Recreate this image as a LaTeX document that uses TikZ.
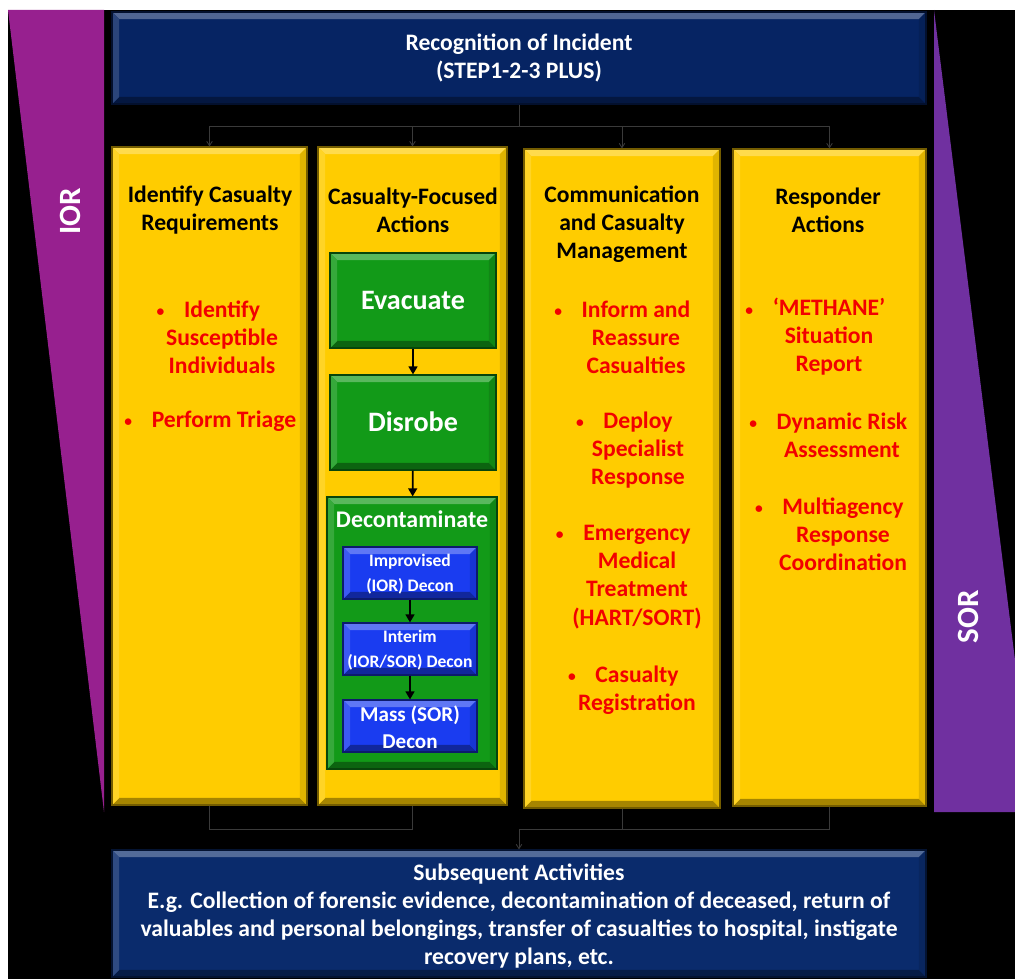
\documentclass[tikz,border=0pt]{standalone}
\usepackage{fontspec}
\setmainfont{Carlito}
\usepackage{tikz}
\usetikzlibrary{calc,positioning,fit,arrows.meta}
\tikzset{>={Straight Barb[width=1.4mm,length=1.1mm]}}
\definecolor{navy}{HTML}{062463}
\definecolor{navylow}{HTML}{0A2B6C}
\definecolor{iorpurple}{HTML}{97208F}
\definecolor{sorpurple}{HTML}{7030A0}
\definecolor{ylw}{HTML}{FFCC00}
\definecolor{grn}{HTML}{129A18}
\definecolor{blu}{HTML}{1A3CF0}
\definecolor{wire}{HTML}{3A3A3A}
\definecolor{bullred}{HTML}{F20000}

\tikzset{
  bevel/.style={fill=#1, draw=#1!45!black, line width=0.8pt, inner sep=0pt,
    path picture={
      \fill[#1!70!white] (path picture bounding box.north west) -- (path picture bounding box.north east)
        -- ([shift={(-5pt,-5pt)}]path picture bounding box.north east) -- ([shift={(5pt,-5pt)}]path picture bounding box.north west) -- cycle;
      \fill[#1!65!black] (path picture bounding box.south west) -- (path picture bounding box.south east)
        -- ([shift={(-5pt,5pt)}]path picture bounding box.south east) -- ([shift={(5pt,5pt)}]path picture bounding box.south west) -- cycle;
      \fill[#1!88!black] (path picture bounding box.north east) -- (path picture bounding box.south east)
        -- ([shift={(-5pt,5pt)}]path picture bounding box.south east) -- ([shift={(-5pt,-5pt)}]path picture bounding box.north east) -- cycle;
      \fill[#1!85!white] (path picture bounding box.north west) -- (path picture bounding box.south west)
        -- ([shift={(5pt,5pt)}]path picture bounding box.south west) -- ([shift={(5pt,-5pt)}]path picture bounding box.north west) -- cycle;
    }},
}
\newcommand{\bul}{\llap{{\fontsize{11}{11}\selectfont\raisebox{0.5pt}{\textbullet}}\hspace{14pt}}}

\begin{document}
\begin{tikzpicture}[x=0.025cm, y=-0.025cm]
  \tikzstyle{txt} = [font=\fontsize{16.8}{20}\selectfont\bfseries, align=center, inner sep=0pt]
  \tikzstyle{head} = [txt, text=black]
  \tikzstyle{item} = [txt, text=bullred]
  \tikzstyle{wtxt} = [txt, text=white]
  \tikzstyle{link} = [wire, line width=0.6pt]
  \tikzstyle{flow} = [black, line width=1.3pt, -{Triangle[width=2.2mm,length=2mm]}]

  \useasboundingbox (0,0) rectangle (1015,979);
  \fill[black] (8,10) rectangle (1015,979);
  \fill[iorpurple] (8,10) -- (104,10) -- (104,812) -- cycle;
  \fill[sorpurple] (934,10) -- (934,812) -- (1015,812) -- (1015,660) -- cycle;
  \node[rotate=90, text=white, font=\fontsize{22}{24}\selectfont\bfseries] (ior) at (70,211) {IOR};
  \node[rotate=90, text=white, font=\fontsize{22}{24}\selectfont\bfseries] (sor) at (968,617) {SOR};

  \node[bevel=navy, fit={(112,12) (926,104)}] (incident) {};
  \node[wtxt] (incidenttxt) at (519,58) {Recognition of Incident\\(STEP1-2-3 PLUS)};
  \node[bevel=ylw, fit={(112,147) (307,805)}] (col1) {};
  \node[bevel=ylw, fit={(318,147) (507,805)}] (col2) {};
  \node[bevel=ylw, fit={(524,149) (720,808)}] (col3) {};
  \node[bevel=ylw, fit={(733,149) (926,806)}] (col4) {};
  \node[bevel=navylow, fit={(112,850) (926,977)}] (after) {};
  \node[wtxt] (aftertxt) at (519,916) {Subsequent Activities\\E.g. Collection of forensic evidence, decontamination of deceased, return of\\valuables and personal belongings, transfer of casualties to hospital, instigate\\recovery plans, etc.};

  \node[head] (h1) at (210,210) {Identify Casualty\\Requirements};
  \node[item] (i11) at (222,337) {\bul Identify\\Susceptible\\Individuals};
  \node[item] (i12) at (224,421) {\bul Perform Triage};

  \node[head] (h2) at (413,210) {Casualty-Focused\\Actions};
  \node[bevel=grn, fit={(330,253) (496,348)}] (evac) {};
  \node[wtxt, font=\fontsize{20}{24}\selectfont\bfseries] (evactxt) at (413,300) {Evacuate};
  \node[bevel=grn, fit={(330,375) (496,470)}] (disrobe) {};
  \node[wtxt, font=\fontsize{20}{24}\selectfont\bfseries] (disrobetxt) at (413,422) {Disrobe};
  \node[bevel=grn, fit={(327,497) (497,769)}] (decon) {};
  \node[wtxt, font=\fontsize{17}{20}\selectfont\bfseries] (dtitle) at (412,519) {Decontaminate};
  \node[bevel=blu, fit={(343,547) (477,599)}] (improv) {};
  \node[wtxt, font=\fontsize{12.5}{17.5}\selectfont\bfseries] (improvtxt) at (410,574) {Improvised\\(IOR) Decon};
  \node[bevel=blu, fit={(343,623) (477,675)}] (interim) {};
  \node[wtxt, font=\fontsize{12.5}{17.5}\selectfont\bfseries] (interimtxt) at (410,650) {Interim\\(IOR/SOR) Decon};
  \node[bevel=blu, fit={(343,700) (477,752)}] (mass) {};
  \node[wtxt, font=\fontsize{15}{19}\selectfont\bfseries] (masstxt) at (410,727) {Mass (SOR)\\Decon};

  \node[head] (h3) at (622,224) {Communication\\and Casualty\\Management};
  \node[item] (i31) at (636,337) {\bul Inform and\\Reassure\\Casualties};
  \node[item] (i32) at (638,450) {\bul Deploy\\Specialist\\Response};
  \node[item] (i33) at (637,577) {\bul Emergency\\Medical\\Treatment\\(HART/SORT)};
  \node[item] (i34) at (637,690) {\bul Casualty\\Registration};

  \node[head] (h4) at (828,210) {Responder\\Actions};
  \node[item] (i41) at (829,337) {\bul `METHANE'\\Situation\\Report};
  \node[item] (i42) at (842,435) {\bul Dynamic Risk\\Assessment};
  \node[item] (i43) at (843,534) {\bul Multiagency\\Response\\Coordination};

  \draw[flow] (evac) -- (disrobe);
  \draw[flow] (disrobe) -- (decon);
  \draw[flow] (improv) -- (interim);
  \draw[flow] (interim) -- (mass);

  \coordinate (split) at (incident.south |- 0,126);
  \draw[link] (incident.south) -- (split);
  \draw[link,->] (split) -| (col1.north);
  \draw[link,->] (split) -| (col2.north);
  \draw[link,->] (split) -| (col3.north);
  \draw[link,->] (split) -| (col4.north);

  \coordinate (join) at (after.north |- 0,829);
  \draw[link] (col1.south) |- (col2.south |- join) -- (col2.south);
  \draw[link] (col3.south) |- (col4.south |- join) -- (col4.south);
  \draw[link] (col3.south |- join) -- (join);
  \draw[link,->] (join) -- (after.north);
\end{tikzpicture}
\end{document}
